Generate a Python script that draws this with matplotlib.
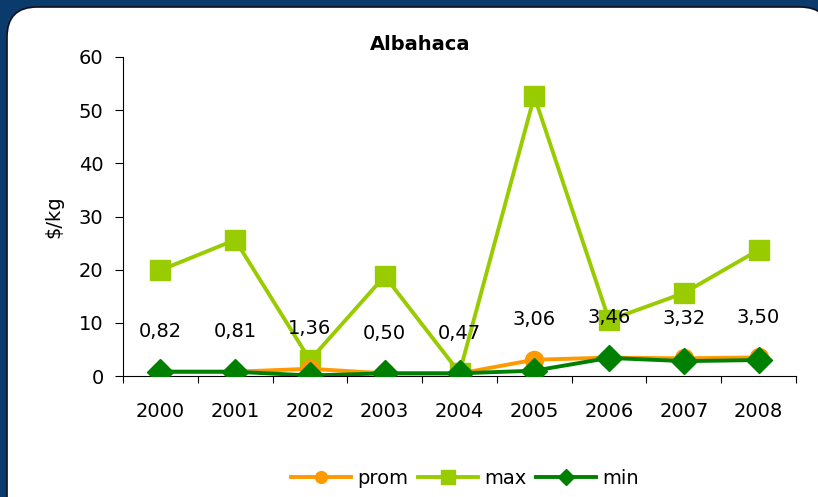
import numpy as np
import matplotlib
matplotlib.use('Agg')
import matplotlib.pyplot as plt
from matplotlib.patches import FancyBboxPatch

plt.rcParams['font.family'] = ['DejaVu Sans']

years = ['2000', '2001', '2002', '2003', '2004', '2005', '2006', '2007', '2008']
prom = [0.82, 0.81, 1.36, 0.50, 0.47, 3.06, 3.46, 3.32, 3.50]
vmax = [19.9, 25.6, 3.0, 18.8, 0.6, 52.6, 10.5, 15.6, 23.7]
vmin = [0.8, 0.8, 0.1, 0.5, 0.5, 1.0, 3.4, 2.8, 3.0]

fig = plt.figure(figsize=(8.18, 4.97), dpi=100)
fig.patch.set_facecolor('#0b3a6d')

# white rounded panel (inches), running off the right and bottom edges
panel = FancyBboxPatch((0.07, -1.0), 8.23, 4.90 + 1.0,
                       boxstyle='round,pad=0,rounding_size=0.3',
                       transform=fig.dpi_scale_trans, facecolor='white',
                       edgecolor='#111111', lw=1.2, zorder=-5)
fig.patches.append(panel)

ax = fig.add_axes([123 / 818, 1 - 376 / 497, (796 - 123) / 818, (376 - 57) / 497])
ax.set_facecolor('none')

x = np.arange(len(years))
ax.plot(x, prom, color='#ff9900', lw=2.8, marker='o', ms=13, label='prom', zorder=3)
ax.plot(x, vmax, color='#99cc00', lw=2.8, marker='s', ms=15, label='max', zorder=2)
ax.plot(x, vmin, color='#008000', lw=2.8, marker='D', ms=13, label='min', zorder=4)

for xi, v in zip(x, prom):
    ax.annotate(f'{v:.2f}'.replace('.', ','), (xi, v), xytext=(0, 29),
                textcoords='offset points', ha='center', va='center', fontsize=14)

ax.set_xlim(-0.5, len(years) - 0.5)
ax.set_ylim(0, 60)
ax.set_yticks(range(0, 61, 10))
ax.set_xticks(np.arange(-0.5, len(years), 1))
ax.set_xticklabels([])
ax.set_xticks(x, minor=True)
ax.set_xticklabels(years, minor=True)
ax.tick_params(axis='x', which='minor', length=0, pad=19, labelsize=14)
ax.tick_params(axis='x', which='major', length=5, direction='out')
ax.tick_params(axis='y', length=6, labelsize=14, pad=8)

for s in ['top', 'right']:
    ax.spines[s].set_visible(False)
for s in ['left', 'bottom']:
    ax.spines[s].set_linewidth(0.8)

ax.set_ylabel('$/kg', fontsize=14, labelpad=11)
fig.text(420 / 818, 1 - 44 / 497, 'Albahaca', fontsize=14, fontweight='bold',
         ha='center', va='center')

ax.legend(loc='center', bbox_to_anchor=(465 / 818, 1 - 478 / 497),
          bbox_transform=fig.transFigure, ncol=3, frameon=False,
          fontsize=14, handlelength=3.1, columnspacing=0.5, handletextpad=0.3,
          markerscale=0.65)

fig.savefig('out.png', dpi=100, facecolor=fig.get_facecolor())
